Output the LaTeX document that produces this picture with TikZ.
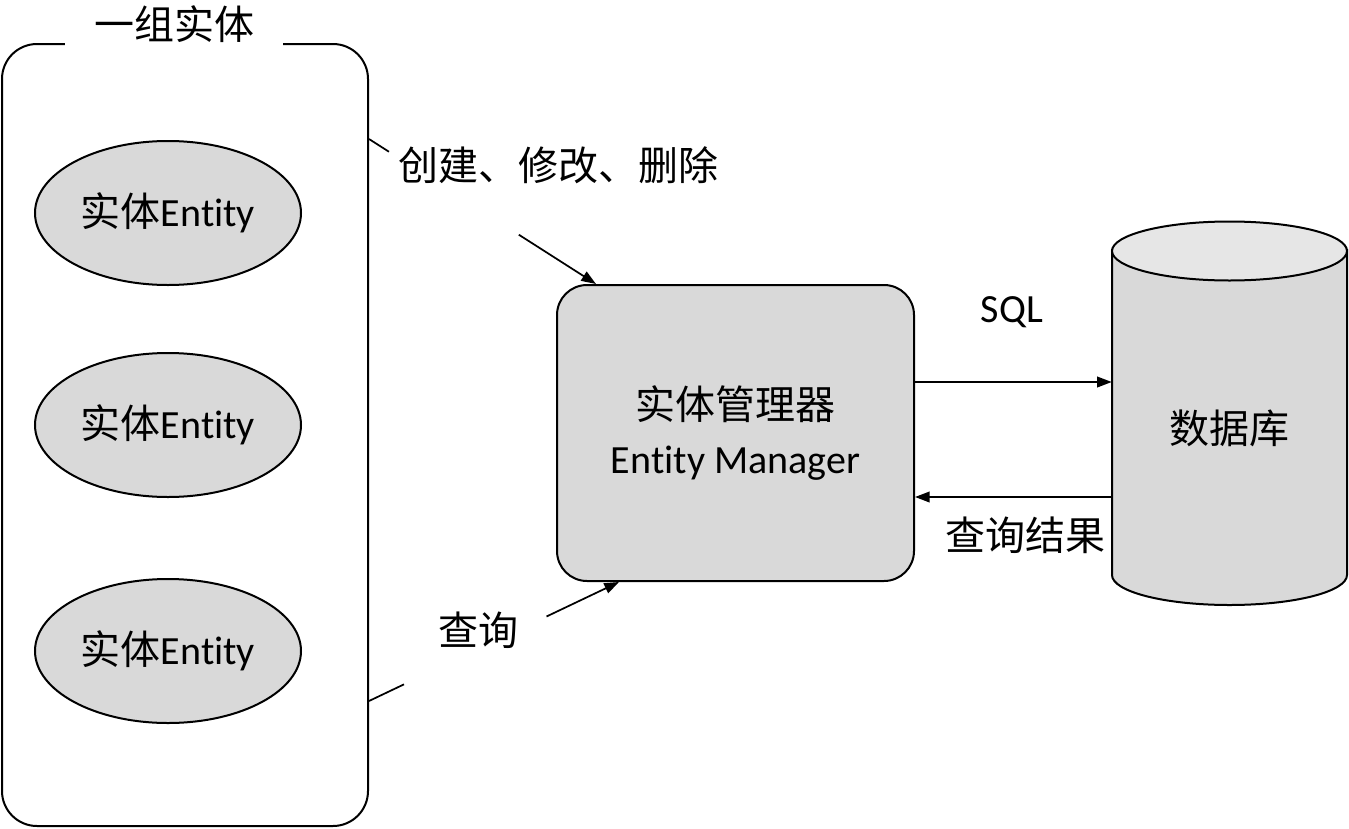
\documentclass[tikz,border=0pt]{standalone}
\usepackage{fontspec}
\setmainfont[Ligatures={NoCommon}]{Carlito}
\newfontfamily\cjk{Noto Sans CJK SC}
\usetikzlibrary{shapes.geometric,arrows.meta,calc}

\definecolor{boxgray}{HTML}{D9D9D9}
\definecolor{topgray}{HTML}{E6E6E6}
\newcommand{\pxu}{0.75pt}

\tikzset{
  entity/.style={ellipse, draw, fill=boxgray, line width=1.5pt,
    minimum width=266*\pxu, minimum height=144*\pxu, inner sep=0pt},
  manager/.style={rectangle, draw, fill=boxgray, line width=1.5pt,
    rounded corners=30*\pxu, minimum width=357*\pxu, minimum height=296*\pxu,
    align=center},
  conn/.style={line width=1.3pt, -{Triangle[length=11pt,width=8pt]}}
}

\begin{document}
\begin{tikzpicture}[x=\pxu, y=-\pxu, font=\fontsize{30}{40}\selectfont]
    \useasboundingbox (0,0) rectangle (1349,828);

    % group of entities
    \node[draw, line width=1.5pt, rounded corners=35*\pxu,
        minimum width=366*\pxu, minimum height=782*\pxu] (grp) at (185,435) {};
    \node[fill=white, minimum width=218*\pxu, inner ysep=4pt] (title) at (174,24) {\cjk 一组实体};
    \node[entity] (ent1) at (168,213) {{\cjk 实体}Entity};
    \node[entity] (ent2) at (168,425) {{\cjk 实体}Entity};
    \node[entity] (ent3) at (168,651) {{\cjk 实体}Entity};

    % manager
    \node[manager] (mgr) at (735.5,433) {{\cjk 实体管理器}\\Entity Manager};

    % database
    \path[draw, fill=boxgray, line width=1.5pt] (1112,250) -- (1112,575)
        arc[start angle=180, end angle=360, x radius=117.5*\pxu, y radius=30*\pxu]
        -- (1347,250) -- cycle;
    \draw[fill=topgray, line width=1.5pt] (1229.5,251)
        ellipse[x radius=117.5*\pxu, y radius=29.5*\pxu];
    \node[minimum width=235*\pxu, inner sep=0pt] (db) at (1229.5,428) {\cjk 数据库};

    % create / modify / delete
    \coordinate (c1) at ([yshift=-96*\pxu]grp.north east);
    \coordinate (c2) at ([xshift=40*\pxu]mgr.north west);
    \draw[line width=1.3pt] (c1) -- ($(c1)!0.088!(c2)$);
    \draw[conn] ($(c1)!0.66!(c2)$) -- (c2);
    \node (cmd) at (558,165) {\cjk 创建、修改、删除};

    % query
    \coordinate (c3) at ([yshift=126*\pxu]grp.south east);
    \coordinate (c4) at ([xshift=63*\pxu]mgr.south west);
    \draw[line width=1.3pt] (c3) -- ($(c3)!0.14!(c4)$);
    \draw[conn] ($(c3)!0.71!(c4)$) -- (c4);
    \node (qry) at (478,630) {\cjk 查询};

    % sql and result
    \coordinate (s1) at ([yshift=51*\pxu]mgr.east);
    \coordinate (r1) at ([yshift=-64*\pxu]mgr.east);
    \draw[conn] (s1) -- (s1 -| db.west);
    \draw[conn] (r1 -| db.west) -- (r1);
    \node (sql) at (1012,312) {SQL};
    \node (res) at (1025,535) {\cjk 查询结果};
\end{tikzpicture}
\end{document}
